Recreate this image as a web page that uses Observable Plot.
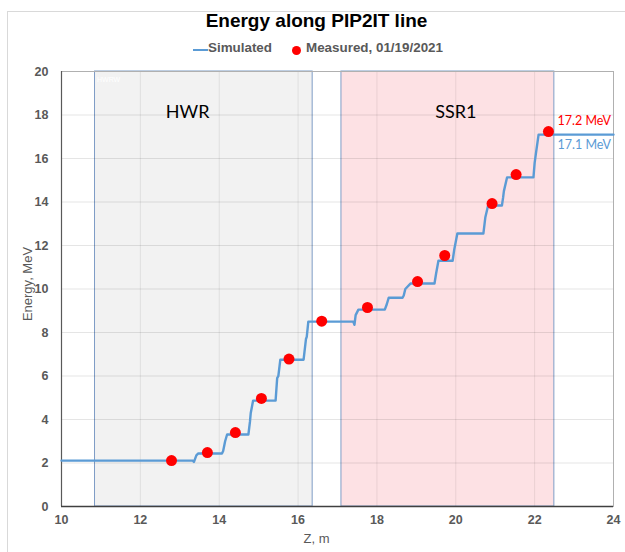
<!DOCTYPE html>
<html>
<head>
<meta charset="utf-8">
<script src="https://cdn.jsdelivr.net/npm/d3@7"></script>
<script src="https://cdn.jsdelivr.net/npm/@observablehq/plot@0.6"></script>
<style>
  html, body { margin: 0; padding: 0; background: #fff; }
  body { width: 625px; height: 552px; position: relative; overflow: hidden; font-family: "Liberation Sans", Arial, sans-serif; }
  #border { position: absolute; left: 7px; top: 11px; width: 800px; height: 800px; border: 1px solid #d9d9d9; box-sizing: border-box; }
  #title { position: absolute; left: 0; top: 10px; width: 633px; text-align: center; font-weight: bold; font-size: 19px; color: #000; }
  .leg { position: absolute; font-weight: bold; font-size: 13.4px; color: #595959; top: 40px; }
  #legLine { position: absolute; left: 193px; top: 49px; width: 15px; height: 2px; background: #5b9bd5; }
  #legDot { position: absolute; left: 292px; top: 46px; width: 9px; height: 9px; border-radius: 50%; background: #ff0000; }
  #chart { position: absolute; left: 0; top: 60px; }
</style>
</head>
<body>
<div id="border"></div>
<div id="title">Energy along PIP2IT line</div>
<div id="legLine"></div>
<div class="leg" style="left:208px">Simulated</div>
<div id="legDot"></div>
<div class="leg" style="left:306px">Measured, 01/19/2021</div>
<div id="chart"></div>
<script>
// Simulated energy along the line (Z in m, energy in MeV)
const simZ = [10, 13.33, 13.36, 13.42, 13.47, 14.07, 14.1, 14.15, 14.2, 14.74, 14.78, 14.8, 14.86,
  15.43, 15.47, 15.5, 15.55, 16.14, 16.2, 16.22, 16.26, 17.4, 17.43, 17.46, 17.53,
  18.2, 18.25, 18.3, 18.65, 18.68, 18.72, 18.85, 19.46, 19.5, 19.56, 19.92, 19.96, 20.04,
  20.7, 20.75, 20.82, 21.17, 21.2, 21.22, 21.3, 21.97, 22.0, 22.03, 22.1, 24];
const simE = [2.11, 2.11, 2.05, 2.35, 2.44, 2.44, 2.55, 3.0, 3.31, 3.31, 3.9, 4.3, 4.87,
  4.87, 5.9, 6.0, 6.75, 6.75, 7.7, 7.8, 8.5, 8.5, 8.35, 8.8, 9.05,
  9.05, 9.3, 9.6, 9.6, 9.7, 10.0, 10.25, 10.25, 10.7, 11.3, 11.3, 11.8, 12.55,
  12.55, 13.3, 13.84, 13.84, 14.2, 14.5, 15.13, 15.13, 15.8, 16.2, 17.1, 17.1];

// Measured points, 01/19/2021
const measZ = [12.79, 13.70, 14.41, 15.07, 15.77, 16.6, 17.76, 19.03, 19.72, 20.92, 21.53, 22.35];
const measE = [2.11, 2.48, 3.40, 4.97, 6.78, 8.52, 9.15, 10.34, 11.54, 13.93, 15.26, 17.24];

// Accelerating sections
const regionName = ["HWR", "SSR1"];
const regionStart = [10.85, 17.1];
const regionEnd = [16.37, 22.5];
const regionFill = ["#f2f2f2", "#fde1e4"];
const regionLabelZ = [13.2, 20.0];
const regionLabelE = [18.11, 18.11];

// Final energy annotations
const annText = ["17.2 MeV", "17.1 MeV"];
const annZ = [22.58, 22.58];
const annE = [17.72, 16.6];
const annColor = ["#ff0000", "#5b9bd5"];

// Axes
const xTicks = [10, 12, 14, 16, 18, 20, 22, 24];
const yTicks = [0, 2, 4, 6, 8, 10, 12, 14, 16, 18, 20];
const xGrid = [12, 14, 16, 18, 20, 22];
const yGrid = [2, 4, 6, 8, 10, 12, 14, 16, 18];

const sim = simZ.map((z, i) => ({z, e: simE[i]}));
const meas = measZ.map((z, i) => ({z, e: measE[i]}));
const regions = regionName.map((n, i) => ({name: n, start: regionStart[i], end: regionEnd[i], fill: regionFill[i], lz: regionLabelZ[i], le: regionLabelE[i]}));
const ann = annText.map((t, i) => ({t, z: annZ[i], e: annE[i], c: annColor[i]}));

const chart = Plot.plot({
  width: 625,
  height: 492,
  marginTop: 11,
  marginBottom: 46,
  marginLeft: 61,
  marginRight: 12,
  style: {fontFamily: "'Liberation Sans', Arial, sans-serif", color: "#595959", background: "transparent"},
  x: {domain: [10, 24]},
  y: {domain: [0, 20]},
  color: {type: "identity"},
  marks: [
    Plot.rect(regions, {x1: "start", x2: "end", y1: 0, y2: 20, fill: "fill", stroke: "#7f9dc6", strokeWidth: 1}),
    Plot.ruleY(yGrid, {stroke: "#000", strokeOpacity: 0.1}),
    Plot.ruleX(xGrid, {stroke: "#000", strokeOpacity: 0.08}),
    Plot.frame({stroke: "#b0b0b0"}),
    Plot.ruleX([10], {stroke: "#595959", strokeWidth: 1.2}),
    Plot.ruleY([0], {stroke: "#404040", strokeWidth: 1.6}),
    Plot.text(["HWRW"], {x: 10.9, y: 19.6, text: d => d, fill: "#ffffff", fontSize: 7, textAnchor: "start"}),
    Plot.text(regions, {x: "lz", y: "le", text: "name", fill: "#000", fontSize: 18, fontFamily: "Lato, 'Open Sans', sans-serif"}),
    Plot.line(sim, {x: "z", y: "e", stroke: "#5b9bd5", strokeWidth: 2.4, curve: "linear"}),
    Plot.dot(meas, {x: "z", y: "e", r: 5.5, fill: "#ff0000", stroke: "none"}),
    Plot.text(ann, {x: "z", y: "e", text: "t", fill: "c", fontSize: 12.5, textAnchor: "start", fontFamily: "Lato, 'Open Sans', sans-serif"}),
    Plot.axisX({ticks: xTicks, tickSize: 0, tickPadding: 9, label: null, fontWeight: "bold", fontSize: 12.5, fill: "#595959"}),
    Plot.axisY({ticks: yTicks, tickSize: 0, tickPadding: 13, label: null, fontWeight: "bold", fontSize: 12.5, fill: "#595959"}),
    Plot.text(["Z, m"], {frameAnchor: "bottom", text: d => d, textAnchor: "middle", dx: -21, dy: 36, fontSize: 13, fill: "#595959"}),
    Plot.text(["Energy, MeV"], {frameAnchor: "left", text: d => d, textAnchor: "middle", rotate: -90, dx: -34, dy: -5, fontSize: 13, fill: "#595959"})
  ]
});
document.getElementById("chart").appendChild(chart);
</script>
</body>
</html>
